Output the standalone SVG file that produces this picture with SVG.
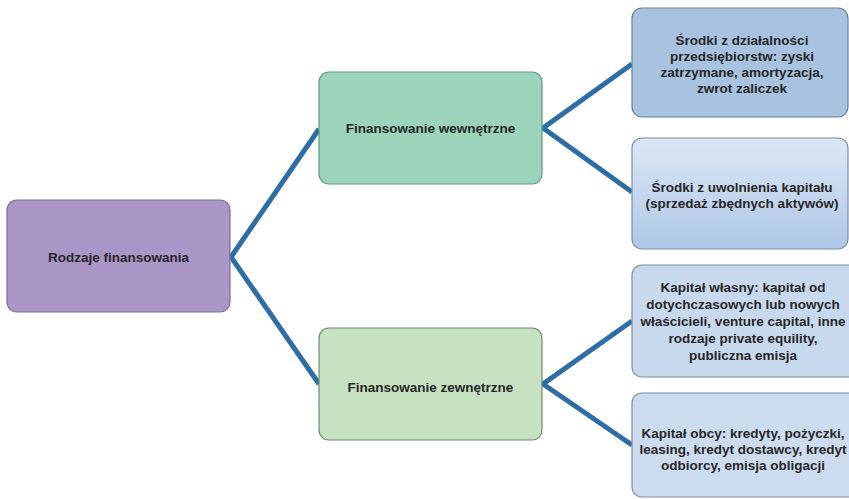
<svg xmlns="http://www.w3.org/2000/svg" width="849" height="499" viewBox="0 0 849 499">
<defs>
<linearGradient id="g2" x1="0" y1="0" x2="0" y2="1">
<stop offset="0" stop-color="#dce7f5"/>
<stop offset="1" stop-color="#aec7e6"/>
</linearGradient>
<style>
text{font-family:"Liberation Sans",Arial,sans-serif;font-weight:bold;font-size:13.5px;fill:#262626;text-anchor:middle}
.box{stroke-width:1.2}
.conn{stroke:#2e6ea6;stroke-width:5;fill:none;stroke-linejoin:miter}
</style>
</defs>
<rect width="849" height="499" fill="#ffffff"/>
<g id="connectors">
<polyline class="conn" points="319,129 231,257 319,384"/>
<polyline class="conn" points="632,64 543,128 632,192"/>
<polyline class="conn" points="632,321 543,384 632,445"/>
</g>
<g id="root">
<rect class="box" x="7" y="200" width="223" height="112" rx="10" fill="#ab96c8" stroke="#7b6c9a"/>
<text x="118.5" y="262">Rodzaje finansowania</text>
</g>
<g id="internal">
<rect class="box" x="319" y="72" width="223" height="112" rx="10" fill="#9bd4bb" stroke="#5b9a80"/>
<text x="430.5" y="133">Finansowanie wewnętrzne</text>
</g>
<g id="external">
<rect class="box" x="319" y="328" width="223" height="112" rx="10" fill="#c6e2c1" stroke="#6d8a6d"/>
<text x="430.5" y="392">Finansowanie zewnętrzne</text>
</g>
<g id="leaf1">
<rect class="box" x="632" y="8" width="216" height="109" rx="10" fill="#a8c3df" stroke="#6c7f94"/>
<text x="742" y="45">Środki z działalności</text>
<text x="742" y="61">przedsiębiorstw: zyski</text>
<text x="742" y="77">zatrzymane, amortyzacja,</text>
<text x="742" y="93">zwrot zaliczek</text>
</g>
<g id="leaf2">
<rect class="box" x="632" y="138" width="216" height="111" rx="10" fill="url(#g2)" stroke="#7d8ea2"/>
<text x="742" y="192">Środki z uwolnienia kapitału</text>
<text x="742" y="208">(sprzedaż zbędnych aktywów)</text>
</g>
<g id="leaf3">
<rect class="box" x="632" y="265" width="228" height="112" rx="10" fill="#c9d9ed" stroke="#7d8ea2"/>
<text x="743" y="292">Kapitał własny: kapitał od</text>
<text x="743" y="309">dotychczasowych lub nowych</text>
<text x="743" y="326">właścicieli, venture capital, inne</text>
<text x="743" y="343">rodzaje private equility,</text>
<text x="743" y="360">publiczna emisja</text>
</g>
<g id="leaf4">
<rect class="box" x="632" y="393" width="228" height="104" rx="10" fill="#ccdcee" stroke="#7d8ea2"/>
<text x="743" y="438">Kapitał obcy: kredyty, pożyczki,</text>
<text x="743" y="454">leasing, kredyt dostawcy, kredyt</text>
<text x="743" y="470">odbiorcy, emisja obligacji</text>
</g>
</svg>
